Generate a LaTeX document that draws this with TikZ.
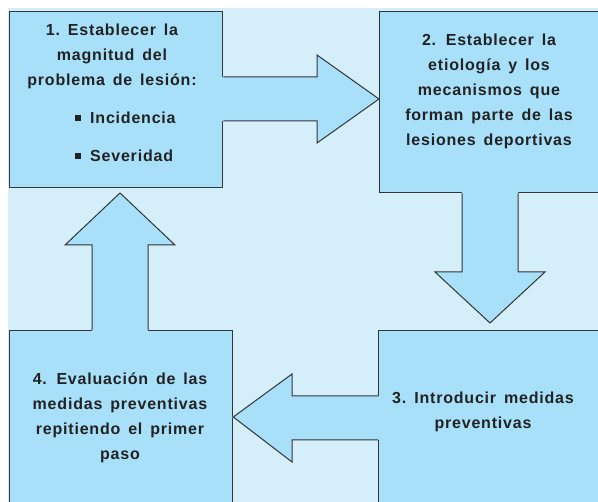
\documentclass[tikz,border=0pt]{standalone}
\usepackage{fontspec}
\setmainfont{Liberation Sans}[LetterSpace=5,WordSpace=1.5]
\definecolor{bgc}{HTML}{D4EEFA}
\definecolor{boxc}{HTML}{A8E0FA}
\definecolor{edgec}{HTML}{353535}
\definecolor{txtc}{HTML}{222222}
\tikzset{
  stepbox/.style={draw=edgec, fill=boxc, line width=1.3pt, anchor=north west, inner sep=0pt},
  arrowfill/.style={fill=boxc},
  arrowedge/.style={draw=edgec, line width=1pt, line join=miter},
  label/.style={text=txtc, font=\fontsize{16}{25}\selectfont\bfseries, align=center, inner sep=0pt},
  item/.style={text=txtc, font=\fontsize{16}{25}\selectfont\bfseries, anchor=west, inner sep=0pt}
}
\begin{document}
\begin{tikzpicture}[x=1pt,y=-1pt]
\useasboundingbox (0,0) rectangle (598,502);
\clip (0,0) rectangle (598,502);
\fill[bgc] (8,8) rectangle (598,502);
% boxes
\node[stepbox, minimum width=213pt, minimum height=176pt] (b1) at (9,11) {};
\node[stepbox, minimum width=241pt, minimum height=181pt] (b2) at (379,11) {};
\node[stepbox, minimum width=242pt, minimum height=190pt] (b3) at (378,330) {};
\node[stepbox, minimum width=223pt, minimum height=190pt] (b4) at (9,330) {};
% arrow 1 -> 2
\fill[arrowfill] (218,77) -- (317,77) -- (317,55) -- (379,99) -- (317,143) -- (317,121) -- (218,121) -- cycle;
\draw[arrowedge] (b1.east |- 0,77) -- (317,77) -- (317,55) -- (b2.west |- 0,99) -- (317,143) -- (317,121) -- (b1.east |- 0,121);
% arrow 2 -> 3
\fill[arrowfill] (462,188) -- (462,272) -- (435,272) -- (490,323) -- (545,272) -- (518,272) -- (518,188) -- cycle;
\draw[arrowedge] (462,0 |- b2.south) -- (462,272) -- (435,272) -- (490,323) -- (545,272) -- (518,272) -- (518,0 |- b2.south);
% arrow 3 -> 4
\fill[arrowfill] (382,396) -- (292,396) -- (292,374) -- (232,417) -- (292,462) -- (292,440) -- (382,440) -- cycle;
\draw[arrowedge] (b3.west |- 0,396) -- (292,396) -- (292,374) -- (b4.east |- 0,417) -- (292,462) -- (292,440) -- (b3.west |- 0,440);
% arrow 4 -> 1
\fill[arrowfill] (92,334) -- (92,245) -- (65,245) -- (120,193) -- (175,245) -- (148,245) -- (148,334) -- cycle;
\draw[arrowedge] (92,0 |- b4.north) -- (92,245) -- (65,245) -- (120,193) -- (175,245) -- (148,245) -- (148,0 |- b4.north);
% texts
\node[label] (t1) at (112,56) {1.\enspace Establecer la\\magnitud del\\problema de lesión:};
\node[item] (i1) at (90,118) {Incidencia};
\node[item] (i2) at (90,156) {Severidad};
\fill[txtc] (75,115) rectangle (81,121);
\fill[txtc] (75,153) rectangle (81,159);
\node[label] (t2) at (489,91) {2. Establecer la\\etiología y los\\mecanismos que\\forman parte de las\\lesiones deportivas};
\node[label] (t3) at (483,411.5) {3.\enspace Introducir medidas\\preventivas};
\node[label] (t4) at (120,417.5) {4. Evaluación de las\\medidas preventivas\\repitiendo el primer\\paso};
\end{tikzpicture}
\end{document}
